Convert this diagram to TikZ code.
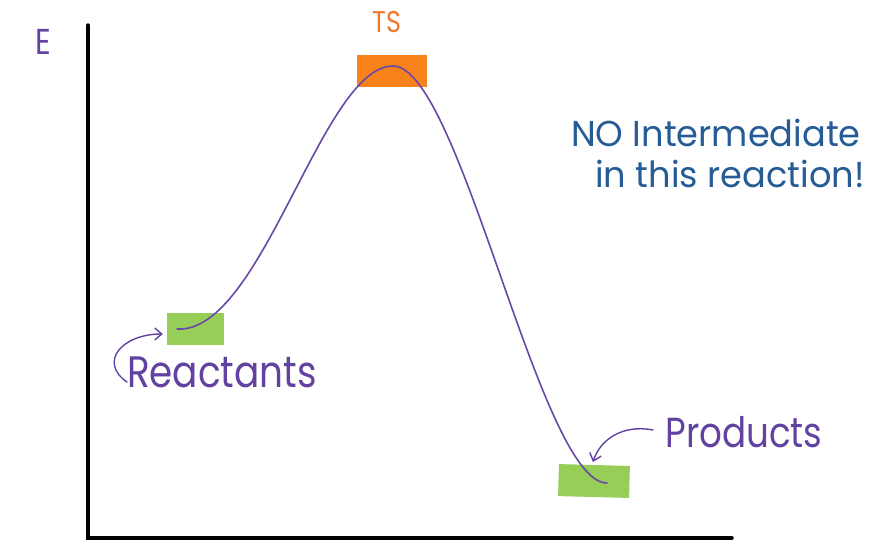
\documentclass[tikz,border=0pt]{standalone}
\usepackage{fontspec}
\setmainfont{Poppins}[FakeStretch=0.85]
\usetikzlibrary{arrows.meta}
\definecolor{curvepurple}{RGB}{105,72,168}
\definecolor{textpurple}{RGB}{98,66,160}
\definecolor{tsorange}{RGB}{247,130,28}
\definecolor{tstext}{RGB}{240,120,45}
\definecolor{boxgreen}{RGB}{150,206,88}
\definecolor{noteblue}{RGB}{38,92,150}
\tikzset{
  axisline/.style={line width=3.5pt, black, line cap=round},
  level/.style={fill=#1, inner sep=0pt, minimum height=32pt, draw=none},
  profile/.style={curvepurple, line width=1.6pt, line cap=round},
  hand/.style={textpurple, inner sep=0pt, font=\fontsize{#1}{#1}\selectfont},
  note/.style={noteblue, inner sep=0pt, font=\fontsize{#1}{#1}\selectfont},
  pointer/.style={textpurple, line width=1.4pt, line cap=round, -{Straight Barb[length=7pt,width=12pt,line width=1.4pt]}}
}
\begin{document}
\begin{tikzpicture}[x=1pt,y=-1pt]
\useasboundingbox (0,0) rectangle (886,547);
% axes
\coordinate (ytop) at (88,25);
\coordinate (orig) at (88,538);
\coordinate (xend) at (732,538);
\draw[axisline] (ytop) -- (orig) -- (xend);
\node[hand=36, anchor=center] (E) at (43,42) {E};
% level boxes
\node[level=boxgreen, minimum width=57pt] (rbox) at (195.5,329) {};
\node[level=tsorange, minimum width=70pt] (tsbox) at (392,71) {};
\node[level=boxgreen, minimum width=71pt, rotate=-1.5] (pbox) at (594,481) {};
% energy profile
\coordinate (c0) at (177,329);
\coordinate (c1) at (393,66);
\coordinate (c2) at (607,483);
\draw[profile] (c0) .. controls (262,334) and (322,66) .. (c1)
  .. controls (460,66) and (540,483) .. (c2);
% labels
\node[font=\fontsize{30}{30}\selectfont, text=tstext, inner sep=0pt] (TS) at (387,22) {TS};
\node[hand=44] (R) at (222,372) {Reactants};
\node[hand=42] (P) at (744,432) {Products};
\node[note=36] (n1) at (716,133) {\scalebox{1.15}[1]{NO Intermediate}};
\node[note=36] (n2) at (730,174) {\scalebox{1.15}[1]{in this reaction!}};
% pointers
\coordinate (ra) at (127,382);
\draw[pointer] (ra) .. controls (98,362) and (122,334) .. ([xshift=-4pt,yshift=-5pt]rbox.west);
\coordinate (pa) at (653,430);
\draw[pointer] (pa) .. controls (622,424) and (600,440) .. (593,462);
\end{tikzpicture}
\end{document}
